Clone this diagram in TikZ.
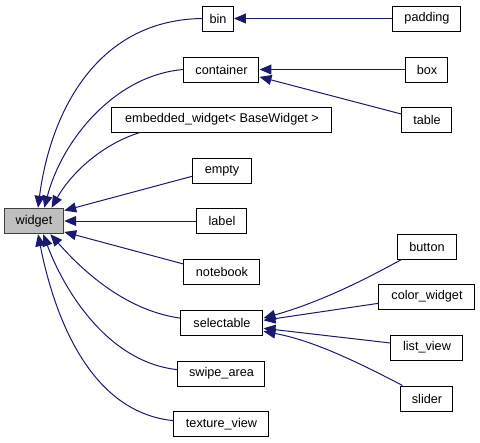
\documentclass[tikz,border=0pt]{standalone}
\usepackage{fontspec}
\setmainfont{Liberation Sans}
\usetikzlibrary{arrows.meta}

\begin{document}
\begin{tikzpicture}[x=0.75pt,y=-0.75pt,
  cls/.style={draw=black,line width=0.75pt,fill=white,
    minimum height=18.75pt,inner sep=0pt,
    font=\fontsize{9.5}{11}\selectfont},
  edge/.style={draw=edgeblue,line width=0.75pt,
    -{Triangle[length=9pt,width=7.5pt,fill=edgeblue]}}]
 \definecolor{edgeblue}{RGB}{25,25,112}
 \definecolor{basegray}{RGB}{191,191,191}
 \useasboundingbox (0,0) rectangle (480,443);
 % base class
 \node[cls,fill=basegray,draw=black!75,line width=1.1pt,
   minimum width=44.25pt] (widget) at (34,221) {widget};
 % derived classes
 \foreach \nm/\txt/\xp/\yp/\bw in {
   bin/bin/218/18.5/31, padding/padding/427/18.5/68,
   container/container/221.5/69.5/75, box/box/427/69.5/42,
   table/table/427/119.5/50,
   embedded/embedded\_widget< BaseWidget >/222/119.5/220,
   empty/empty/222/170.5/59, label/label/222/221/50,
   notebook/notebook/222/271.5/76, selectable/selectable/222/322.5/82,
   swipe/swipe\_area/221.5/373.5/87, texture/texture\_view/221.5/424/95,
   button/button/427/246.5/59, color/color\_widget/427/296.5/96,
   listview/list\_view/427/347.5/72, slider/slider/427/398.5/52
 } {
   \node[cls,minimum width=\bw*0.75pt] (\nm) at (\xp,\yp) {\txt};
 }
 % edges into widget
 \draw[edge] (bin.west) .. controls (95,20) and (50,115) .. (widget.73);
 \draw[edge] (container.west) .. controls (115,75) and (62,140) .. (widget.52);
 \draw[edge] (embedded.189) .. controls (100,145) and (70,175) .. (widget.37);
 \draw[edge] (empty.191) -- (widget.19);
 \draw[edge] (label.west) -- (widget.east);
 \draw[edge] (notebook.169) -- (widget.-20);
 \draw[edge] (selectable.174) .. controls (120,310) and (75,262) .. (widget.-39);
 \draw[edge] (swipe.175) .. controls (105,362) and (62,285) .. (widget.-55);
 \draw[edge] (texture.176) .. controls (85,412) and (52,305) .. (widget.-73);
 % edges on the right
 \draw[edge] (padding.west) -- (bin.east);
 \draw[edge] (box.west) -- (container.east);
 \draw[edge] (table.168) -- (container.-11);
 \draw[edge] (button.207) .. controls (350,288) and (310,305) .. (selectable.6);
 \draw[edge] (color.188) -- (selectable.3);
 \draw[edge] (listview.173) -- (selectable.-8);
 \draw[edge] (slider.152) .. controls (350,358) and (310,340) .. (selectable.-12);
\end{tikzpicture}
\end{document}
